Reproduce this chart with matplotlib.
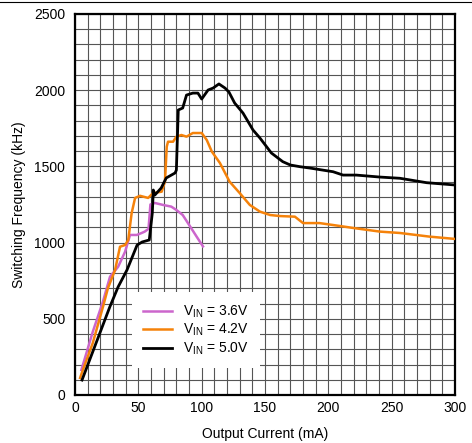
import matplotlib
matplotlib.use("Agg")
import matplotlib.pyplot as plt
import matplotlib.lines as mlines

plt.rcParams['font.family'] = ['Liberation Sans', 'DejaVu Sans']
plt.rcParams['mathtext.fontset'] = 'custom'
plt.rcParams['mathtext.rm'] = 'Liberation Sans'

# VIN = 3.6V
cur_36 = [5, 14, 22, 27.6, 34, 39.5, 43.4, 48.7, 52.6, 55, 58, 59.5, 63, 69.5,
          76, 80, 85, 91, 96, 101]
freq_36 = [164, 415, 612, 776, 841, 940, 1050, 1050, 1063, 1072, 1090, 1250, 1260, 1247,
           1236, 1214, 1181, 1104, 1039, 975]

# VIN = 4.2V
cur_42 = [4, 5.3, 14, 22, 26, 31.6, 35.5, 39.5, 42, 44.7, 47.4, 51.3, 57.7, 61.6,
          68.4, 71, 72.4, 73.4, 77.4, 80, 84, 88, 93, 100, 104, 108, 114.4, 122,
          130, 138, 146, 154, 162, 173.6, 180, 193, 204, 219.6, 240.7, 256.5, 280, 300]
freq_42 = [112, 144, 341, 577, 702, 820, 973, 984, 1017, 1194, 1293, 1307, 1293, 1325,
           1334, 1400, 1629, 1662, 1662, 1695, 1706, 1695, 1719, 1719, 1673, 1597, 1522, 1400,
           1325, 1247, 1203, 1181, 1174, 1170, 1128, 1128, 1115, 1096, 1072, 1063, 1039, 1024]

# VIN = 5.0V
cur_50 = [5.5, 27.4, 34, 41, 49, 53, 58.6, 61, 61.8, 63, 68, 72, 79, 80,
          81.5, 85, 88, 93, 97, 100, 105, 109, 113.6, 118.4, 121.5, 126, 132.6, 140.5,
          146, 155, 164, 170, 177.6, 185.5, 203.7, 211.6, 222, 240.7, 256.5, 277.6, 300]
freq_50 = [98, 577, 709, 820, 984, 1004, 1017, 1194, 1345, 1312, 1358, 1424, 1457, 1476,
           1870, 1883, 1968, 1981, 1981, 1942, 2001, 2014, 2041, 2014, 1988, 1916, 1850, 1739,
           1686, 1588, 1531, 1509, 1498, 1489, 1465, 1443, 1443, 1430, 1422, 1393, 1378]

series = [
    (cur_36, freq_36, '#CC66CC', 1.8, 'V$_{\\mathregular{IN}}$ = 3.6V'),
    (cur_42, freq_42, '#F5820A', 1.8, 'V$_{\\mathregular{IN}}$ = 4.2V'),
    (cur_50, freq_50, 'black', 2.0, 'V$_{\\mathregular{IN}}$ = 5.0V'),
]

fig = plt.figure(figsize=(4.72, 4.43), dpi=100)
ax = fig.add_axes([0.159, 0.1084, 0.805, 0.860])

for x, y, c, lw, lab in series:
    ax.plot(x, y, color=c, linewidth=lw, label=lab, zorder=3)

ax.set_xlim(0, 300)
ax.set_ylim(0, 2500)
ax.set_xticks(range(0, 301, 50))
ax.set_yticks(range(0, 2501, 500))
ax.set_xticks(range(0, 301, 10), minor=True)
ax.set_yticks(range(0, 2501, 100), minor=True)
ax.grid(True, which='both', color='#555555', linewidth=0.8)
ax.tick_params(which='both', length=0, labelsize=10)
ax.tick_params(axis='y', pad=7)
ax.tick_params(axis='x', pad=4)
for sp in ax.spines.values():
    sp.set_linewidth(1.6)

ax.set_xlabel('Output Current (mA)', fontsize=10, labelpad=9)
ax.set_ylabel('Switching Frequency (kHz)', fontsize=10, labelpad=6)

#Legend
leg = ax.legend(loc='lower left', bbox_to_anchor=(0.149, 0.071), fontsize=10,
                frameon=True, fancybox=False, framealpha=1, edgecolor='none',
                handlelength=2.1, handletextpad=0.8, labelspacing=0.15,
                borderpad=0.8, borderaxespad=0)
leg.set_zorder(5)

# top border line
fig.add_artist(mlines.Line2D([0, 1], [0.996, 0.996], color='black', linewidth=0.8))

plt.savefig('out.png', dpi=100)
